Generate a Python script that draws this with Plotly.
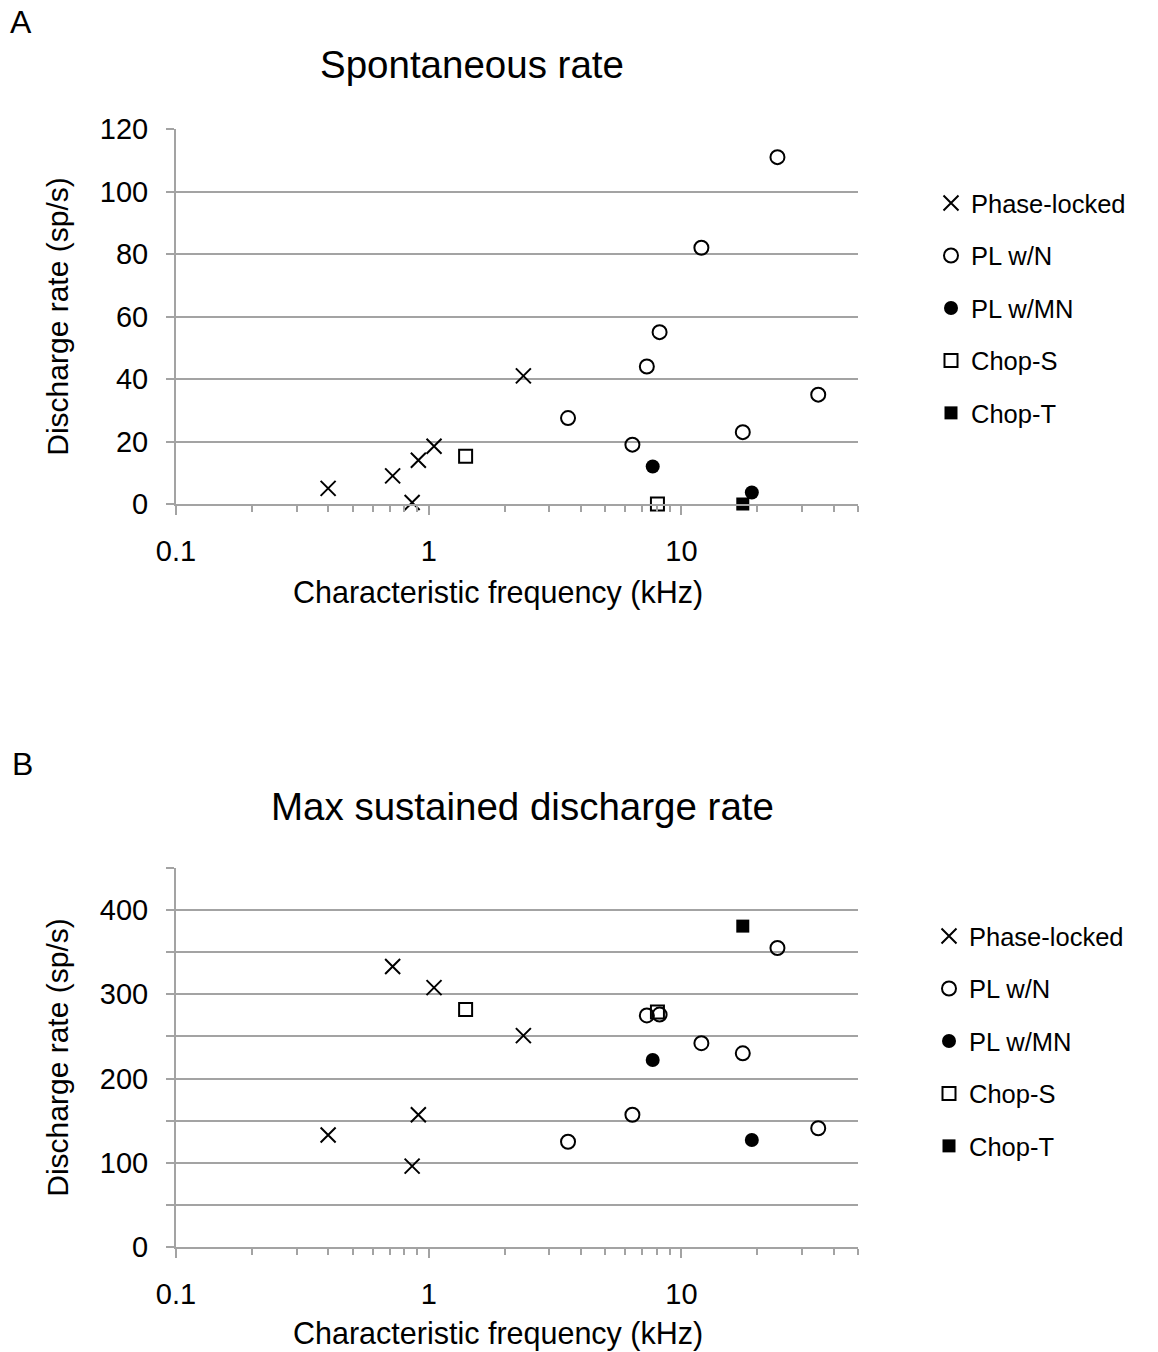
import plotly.graph_objects as go

# ---------------- data ----------------
series_names = ["Phase-locked", "PL w/N", "PL w/MN", "Chop-S", "Chop-T"]

# Characteristic frequency (kHz)
pl_cf = [0.40, 0.72, 0.91, 1.05, 0.86, 2.37]
plwn_cf = [24.0, 12.0, 8.2, 7.3, 3.56, 6.4, 17.5, 34.8]
plwmn_cf = [7.7, 19.0]
chops_cf = [1.40, 8.04]
chopt_cf = [17.5]

# Panel A: spontaneous rate (sp/s)
pl_spont = [5, 9, 14, 18.5, 0.5, 41]
plwn_spont = [111, 82, 55, 44, 27.5, 19, 23, 35]
plwmn_spont = [12, 3.7]
chops_spont = [15.3, 0]
chopt_spont = [0]

# Panel B: max sustained discharge rate (sp/s), same units in same order
pl_max = [133, 333, 157, 308, 96, 251]
plwn_max = [355, 242, 276, 275, 125, 157, 230, 141]
plwmn_max = [222, 127]
chops_max = [282, 279]
chopt_max = [381]

x_tickvals = [0.1, 1, 10]
x_ticktext = ["0.1", "1", "10"]
x_minor = [0.2, 0.3, 0.4, 0.5, 0.6, 0.7, 0.8, 0.9,
           2, 3, 4, 5, 6, 7, 8, 9, 20, 30, 40, 50]
yA_ticks = [0, 20, 40, 60, 80, 100, 120]
yB_ticks = [0, 50, 100, 150, 200, 250, 300, 350, 400, 450]
yB_text = ["0", "", "100", "", "200", "", "300", "", "400", ""]

x_title = "Characteristic frequency (kHz)"
y_title = "Discharge rate (sp/s)"

# ---------------- styling ----------------
FONT = "Liberation Sans, Arial, Helvetica, sans-serif"
GRID = "#a3a3a3"
W, H = 1158, 1352

styles = [
    dict(symbol="x-thin", size=15, color="black", line=dict(width=2, color="black")),
    dict(symbol="circle-open", size=14, color="black", line=dict(width=2, color="black")),
    dict(symbol="circle", size=14, color="black", line=dict(width=0)),
    dict(symbol="square-open", size=13, color="black", line=dict(width=2, color="black")),
    dict(symbol="square", size=13, color="black", line=dict(width=0)),
]

fig = go.Figure()

panelA = [(pl_cf, pl_spont), (plwn_cf, plwn_spont), (plwmn_cf, plwmn_spont),
          (chops_cf, chops_spont), (chopt_cf, chopt_spont)]
panelB = [(pl_cf, pl_max), (plwn_cf, plwn_max), (plwmn_cf, plwmn_max),
          (chops_cf, chops_max), (chopt_cf, chopt_max)]

for i, (name, (xs, ys)) in enumerate(zip(series_names, panelA)):
    fig.add_trace(go.Scatter(x=xs, y=ys, mode="markers", name=name,
                             marker=styles[i], xaxis="x", yaxis="y",
                             legend="legend", legendgroup="A" + str(i),
                             cliponaxis=False))
for i, (name, (xs, ys)) in enumerate(zip(series_names, panelB)):
    fig.add_trace(go.Scatter(x=xs, y=ys, mode="markers", name=name,
                             marker=styles[i], xaxis="x2", yaxis="y2",
                             legend="legend2", legendgroup="B" + str(i),
                             cliponaxis=False))

def px_x(p):
    return p / W

def px_y(p):
    return 1 - p / H

xdom = [px_x(176), px_x(858)]
xrange = [-1, 1.69897]

def xaxis(anchor):
    return dict(type="log", range=xrange, domain=xdom, anchor=anchor,
                automargin=False,
                tickmode="array", tickvals=x_tickvals, ticktext=x_ticktext,
                ticks="outside", ticklen=9, tickwidth=2, tickcolor=GRID,
                ticklabelstandoff=11,
                showline=True, linecolor=GRID, linewidth=2,
                showgrid=False, zeroline=False,
                tickfont=dict(family=FONT, size=29, color="black"),
                minor=dict(tickmode="array", tickvals=x_minor, ticks="outside",
                           ticklen=6, tickwidth=2, tickcolor=GRID, showgrid=False))

def yaxis(anchor, dom, rng, vals, text):
    return dict(range=rng, domain=dom, anchor=anchor,
                automargin=False,
                tickmode="array", tickvals=vals, ticktext=text,
                ticks="outside", ticklen=8, tickwidth=2, tickcolor=GRID,
                ticklabelstandoff=12,
                showline=True, linecolor=GRID, linewidth=2,
                showgrid=True, gridcolor=GRID, gridwidth=2,
                zeroline=False,
                tickfont=dict(family=FONT, size=29, color="black"),
                title=dict(text=y_title,
                           font=dict(family=FONT, size=30, color="black"),
                           standoff=22))

fig.update_layout(
    width=W, height=H,
    margin=dict(l=0, r=0, t=0, b=0, autoexpand=False),
    paper_bgcolor="white", plot_bgcolor="white",
    font=dict(family=FONT, color="black"),
    xaxis=xaxis("y"),
    yaxis=yaxis("x", [px_y(504), px_y(129)], [0, 120],
                yA_ticks, [str(v) for v in yA_ticks]),
    xaxis2=xaxis("y2"),
    yaxis2=yaxis("x2", [px_y(1247), px_y(868)], [0, 450], yB_ticks, yB_text),
    legend=dict(x=px_x(931), y=px_y(180), xanchor="left", yanchor="top",
                font=dict(family=FONT, size=25.5, color="black"),
                tracegroupgap=16.3, bgcolor="rgba(0,0,0,0)", itemsizing="trace"),
    legend2=dict(x=px_x(929), y=px_y(913), xanchor="left", yanchor="top",
                 font=dict(family=FONT, size=25.5, color="black"),
                 tracegroupgap=16.3, bgcolor="rgba(0,0,0,0)", itemsizing="trace"),
    showlegend=True,
)

annots = [
    dict(text="A", x=px_x(21), y=px_y(22), size=32),
    dict(text="B", x=px_x(22), y=px_y(764), size=32),
    dict(text="Spontaneous rate", x=px_x(472), y=px_y(64), size=38.5),
    dict(text="Max sustained discharge rate", x=px_x(522), y=px_y(806), size=38.5),
    dict(text=x_title, x=px_x(498), y=px_y(592), size=30.5),
    dict(text=x_title, x=px_x(498), y=px_y(1333), size=30.5),
]
for a in annots:
    fig.add_annotation(text=a["text"], x=a["x"], y=a["y"], xref="paper", yref="paper",
                       xanchor="center", yanchor="middle", showarrow=False,
                       font=dict(family=FONT, size=a["size"], color="black"))

fig.write_html("out.html")
